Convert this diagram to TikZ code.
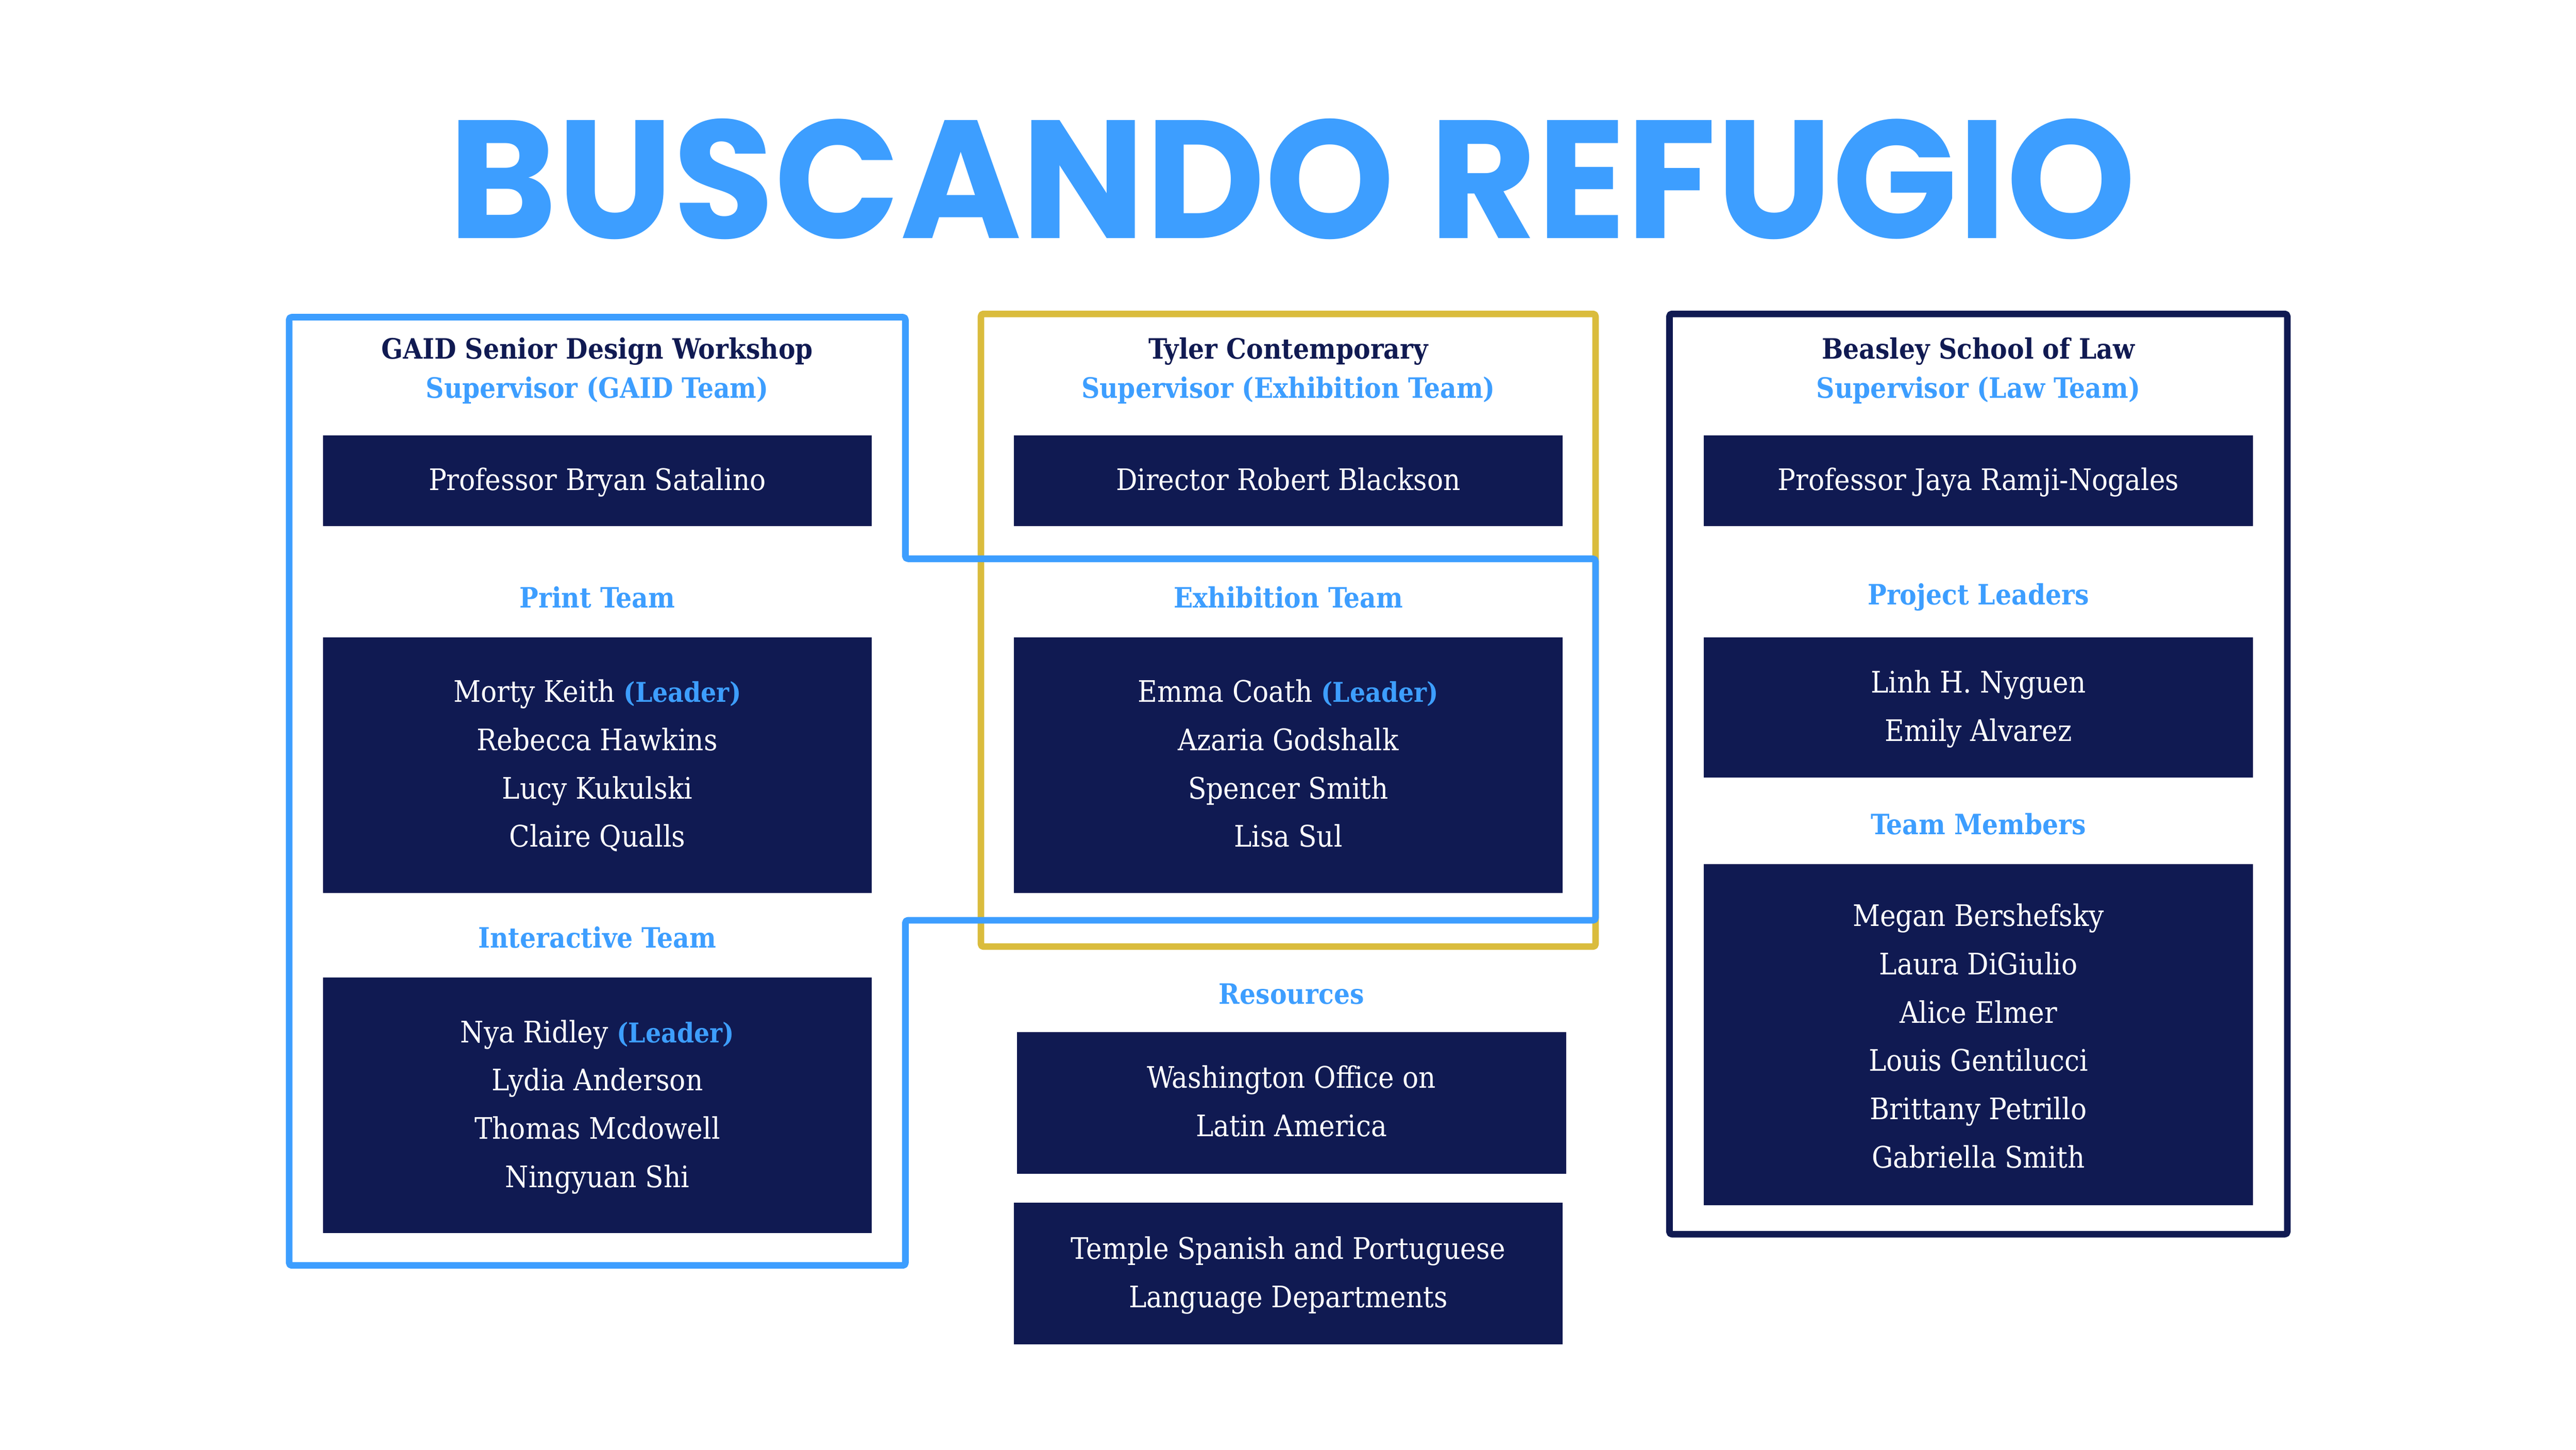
\documentclass[tikz,border=0pt]{standalone}
\usepackage{fontspec}
\setmainfont{DejaVu Serif Condensed}
\newfontfamily\titlefont{Poppins}
\definecolor{navy}{HTML}{101A52}
\definecolor{skyblue}{HTML}{3D9EFF}
\definecolor{gold}{HTML}{DABC3D}
\newcommand\leadtag{\textcolor{skyblue}{\bfseries\fontsize{16.5}{29.3}\selectfont(Leader)}}
\tikzset{
  namebox/.style={fill=navy, draw=none, text=white, align=center, inner sep=0pt,
    font=\fontsize{18}{29.3}\selectfont},
  teamlabel/.style={text=skyblue, inner sep=0pt, font=\bfseries\fontsize{17}{29.3}\selectfont},
  header/.style={align=center, inner sep=0pt, font=\bfseries\fontsize{17}{24}\selectfont},
  frame/.style={line width=4pt, line join=round, rounded corners=1.5pt}
}
\begin{document}
\begin{tikzpicture}[x=0.997pt,y=-0.997pt]
\fill[white] (0pt,0pt) rectangle (1563pt,-879.4pt);
\useasboundingbox (0pt,0pt) rectangle (1563pt,-879.4pt);

\node[inner sep=0pt, text=skyblue] (title) at (786.5,108.8)
  {\titlefont\bfseries\fontsize{102}{102}\selectfont\scalebox{0.98}[1]{BUSCANDO REFUGIO}};

% frames
\draw[frame, gold] (597,191) rectangle (971,576);
\draw[frame, navy] (1016,191) rectangle (1392,751);
\draw[frame, skyblue] (176,193) -- (551,193) -- (551,340) -- (971,340) -- (971,560)
  -- (551,560) -- (551,770) -- (176,770) -- cycle;

% left column
\node[header] (gaidhead) at (363.5,225.5)
  {\strut\textcolor{navy}{GAID Senior Design Workshop}\\\strut\textcolor{skyblue}{Supervisor (GAID Team)}};
\node[namebox, minimum width=333pt, minimum height=55pt] (satalino) at (363.5,292.5)
  {\strut Professor Bryan Satalino};
\node[teamlabel] (printlbl) at (363.5,364) {\strut Print Team};
\node[namebox, minimum width=333pt, minimum height=155pt] (printbox) at (363.5,465.5)
  {\strut Morty Keith \leadtag\\\strut Rebecca Hawkins\\\strut Lucy Kukulski\\\strut Claire Qualls};
\node[teamlabel] (interlbl) at (363.5,571) {\strut Interactive Team};
\node[namebox, minimum width=333pt, minimum height=155pt] (interbox) at (363.5,672.5)
  {\strut Nya Ridley \leadtag\\\strut Lydia Anderson\\\strut Thomas Mcdowell\\\strut Ningyuan Shi};

% middle column
\node[header] (tylerhead) at (784,225.5)
  {\strut\textcolor{navy}{Tyler Contemporary}\\\strut\textcolor{skyblue}{Supervisor (Exhibition Team)}};
\node[namebox, minimum width=333pt, minimum height=55pt] (blackson) at (784,292.5)
  {\strut Director Robert Blackson};
\node[teamlabel] (exhiblbl) at (784,364) {\strut Exhibition Team};
\node[namebox, minimum width=333pt, minimum height=155pt] (exhibbox) at (784,465.5)
  {\strut Emma Coath \leadtag\\\strut Azaria Godshalk\\\strut Spencer Smith\\\strut Lisa Sul};
\node[teamlabel] (reslbl) at (786,605) {\strut Resources};
\node[namebox, minimum width=333pt, minimum height=86pt] (wola) at (786,671)
  {\strut Washington Office on\\\strut Latin America};
\node[namebox, minimum width=333pt, minimum height=86pt] (temple) at (784,775)
  {\strut Temple Spanish and Portuguese\\\strut Language Departments};

% right column
\node[header] (lawhead) at (1204,225.5)
  {\strut\textcolor{navy}{Beasley School of Law}\\\strut\textcolor{skyblue}{Supervisor (Law Team)}};
\node[namebox, minimum width=333pt, minimum height=55pt] (ramji) at (1204,292.5)
  {\strut Professor Jaya Ramji-Nogales};
\node[teamlabel] (projlbl) at (1204,362) {\strut Project Leaders};
\node[namebox, minimum width=333pt, minimum height=85pt] (projbox) at (1204,430.5)
  {\strut Linh H. Nyguen\\\strut Emily Alvarez};
\node[teamlabel] (memlbl) at (1204,502) {\strut Team Members};
\node[namebox, minimum width=333pt, minimum height=207pt] (membox) at (1204,629.5) {};
\node[text=white, align=center, inner sep=0pt, font=\fontsize{18}{29.3}\selectfont] (members)
  at (1204,631.2)
  {\strut Megan Bershefsky\\\strut Laura DiGiulio\\\strut Alice Elmer\\\strut Louis Gentilucci\\\strut Brittany Petrillo\\\strut Gabriella Smith};
\end{tikzpicture}
\end{document}
